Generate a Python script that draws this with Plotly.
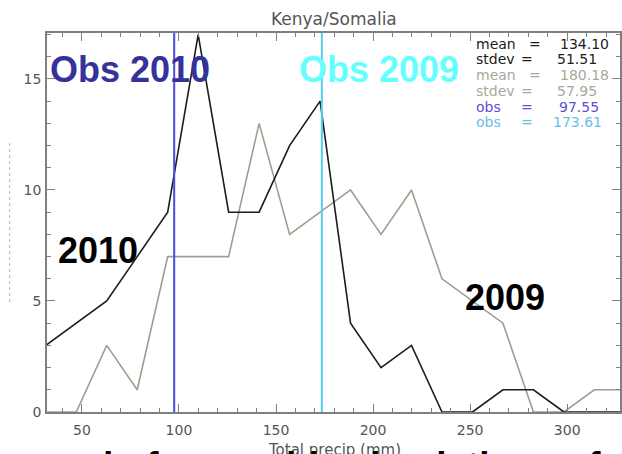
import plotly.graph_objects as go

# Histogram bin centres (mm) and ensemble member counts per bin
precip_bins = [31.4, 47.1, 62.8, 78.5, 94.2, 109.9, 125.6, 141.3, 157.0, 172.7,
               188.4, 204.1, 219.8, 235.5, 251.2, 266.9, 282.6, 298.3, 314.0, 329.7]
counts_2010 = [3, 4, 5, 7, 9, 17, 9, 9, 12, 14, 4, 2, 3, 0, 0, 1, 1, 0, 0, 0]
counts_2009 = [0, 0, 3, 1, 7, 7, 7, 13, 8, 9, 10, 8, 10, 6, 5, 4, 0, 0, 1, 1]

# Observed totals (mm)
obs_2010 = 97.55
obs_2009 = 173.61

# Summary statistics box
stat_labels = ["mean", "stdev", "mean", "stdev", "obs", "obs"]
stat_values = [134.10, 51.51, 180.18, 57.95, obs_2010, obs_2009]

x_ticks = [50, 100, 150, 200, 250, 300]
y_ticks = [0, 5, 10, 15]
x_range = [32.03, 327.2]
y_range = [0, 17.07]

# ---- geometry helpers (pixel -> paper) ----
W, H = 622, 454
ML, MR, MT, MB = 47, 0, 33, 42
PW, PH = W - ML - MR, H - MT - MB


def px(x):
    return (x - ML) / PW


def py(y):
    return (H - MB - y) / PH


BLACK = "#1c1c1c"
GREY = "#9e9e8e"
BLUE = "#4b4be0"
CYAN = "#55cdee"
AXIS = "#808080"
TXT = "#555555"

fig = go.Figure()

fig.add_trace(go.Scatter(x=precip_bins, y=counts_2009, mode="lines",
                         line=dict(color=GREY, width=1.6), showlegend=False))
fig.add_trace(go.Scatter(x=precip_bins, y=counts_2010, mode="lines",
                         line=dict(color=BLACK, width=1.6), showlegend=False))
# empty trace so the top/right tick axes get drawn
fig.add_trace(go.Scatter(x=[], y=[], xaxis="x2", yaxis="y2", showlegend=False,
                         hoverinfo="skip"))

# observed values as vertical lines
fig.add_shape(type="line", xref="x", yref="paper", x0=obs_2010, x1=obs_2010,
              y0=0, y1=1, line=dict(color=BLUE, width=2))
fig.add_shape(type="line", xref="x", yref="paper", x0=obs_2009, x1=obs_2009,
              y0=0, y1=1, line=dict(color=CYAN, width=2))

# faint dashed mark at the far left
fig.add_shape(type="line", xref="paper", yref="paper", x0=px(9.5), x1=px(9.5),
              y0=py(143), y1=py(303), line=dict(color="#b8b8b8", width=1, dash="dot"))

ann = []
# title
ann.append(dict(text="Kenya/Somalia", x=px(335), y=py(19), xref="paper", yref="paper",
                showarrow=False, xanchor="center", yanchor="middle",
                font=dict(family="DejaVu Sans", size=17, color=TXT)))
# x-axis title (partly below the page edge)
ann.append(dict(text="Total precip (mm)", x=px(336), y=py(439), xref="paper", yref="paper",
                showarrow=False, xanchor="center", yanchor="top",
                font=dict(family="DejaVu Sans", size=15, color=TXT)))

big = dict(family="Liberation Sans, Arial", size=36)
ann.append(dict(text="<b>Obs 2010</b>", x=px(48), y=py(69), xref="paper", yref="paper",
                showarrow=False, xanchor="left", yanchor="middle",
                font=dict(**big, color="#333399")))
ann.append(dict(text="<b>Obs 2009</b>", x=px(298), y=py(69), xref="paper", yref="paper",
                showarrow=False, xanchor="left", yanchor="middle",
                font=dict(**big, color="#66ffff")))
ann.append(dict(text="<b>2010</b>", x=px(98), y=py(250), xref="paper", yref="paper",
                showarrow=False, xanchor="center", yanchor="middle",
                font=dict(**big, color="black")))
ann.append(dict(text="<b>2009</b>", x=px(507), y=py(297), xref="paper", yref="paper",
                showarrow=False, xanchor="center", yanchor="middle",
                font=dict(**big, color="black")))

# caption text running off the bottom of the page
ann.append(dict(text="<b>spread of ensemble simulations of</b>", x=px(-10), y=py(443),
                xref="paper", yref="paper", showarrow=False, xanchor="left", yanchor="top",
                font=dict(family="Liberation Sans, Arial", size=37, color="black")))

# statistics block
stat_colors = [BLACK, BLACK, "#a8a89a", "#a8a89a", "#5a4fd6", "#66c0e6"]
row_y = [44, 59, 75, 91, 107, 122]
eq_x = [537, 529, 537, 529, 529, 529]
val_x = [560, 557, 560, 557, 559, 553]
sfont = dict(family="DejaVu Sans", size=14)
for i, (lab, val) in enumerate(zip(stat_labels, stat_values)):
    c = stat_colors[i]
    ann.append(dict(text=lab, x=px(475), y=py(row_y[i]), xref="paper", yref="paper",
                    showarrow=False, xanchor="left", yanchor="middle",
                    font=dict(**sfont, color=c)))
    ann.append(dict(text="=", x=px(eq_x[i]), y=py(row_y[i]), xref="paper", yref="paper",
                    showarrow=False, xanchor="center", yanchor="middle",
                    font=dict(**sfont, color=c)))
    ann.append(dict(text=f"{val:.2f}", x=px(val_x[i]), y=py(row_y[i]), xref="paper",
                    yref="paper", showarrow=False, xanchor="left", yanchor="middle",
                    font=dict(**sfont, color=c)))

axis_common = dict(showline=True, linecolor=AXIS, linewidth=1.5, mirror=True,
                   ticks="inside", tickcolor=AXIS, tickwidth=1.2, ticklen=8,
                   showgrid=False, zeroline=False,
                   tickfont=dict(family="DejaVu Sans", size=14, color=TXT))
mirror_common = dict(showline=False, ticks="inside", tickcolor=AXIS, tickwidth=1.2,
                     ticklen=8, showgrid=False, zeroline=False, showticklabels=False)

fig.update_layout(
    width=W, height=H,
    margin=dict(l=ML, r=MR, t=MT, b=MB, pad=0),
    paper_bgcolor="white", plot_bgcolor="white",
    annotations=ann,
    xaxis=dict(range=x_range, tickvals=x_ticks,
               minor=dict(dtick=10, ticks="inside", ticklen=4, tickcolor=AXIS, showgrid=False),
               ticklabelstandoff=4, **axis_common),
    yaxis=dict(range=y_range, tickvals=y_ticks,
               minor=dict(dtick=1, ticks="inside", ticklen=4, tickcolor=AXIS, showgrid=False),
               ticklabelstandoff=1, **axis_common),
    xaxis2=dict(overlaying="x", side="top", anchor="y2", range=x_range, tickvals=x_ticks,
                minor=dict(dtick=10, ticks="inside", ticklen=4, tickcolor=AXIS, showgrid=False),
                **mirror_common),
    yaxis2=dict(overlaying="y", side="right", anchor="x2", range=y_range, tickvals=y_ticks,
                minor=dict(dtick=1, ticks="inside", ticklen=4, tickcolor=AXIS, showgrid=False),
                **mirror_common),
)

fig.write_html("out.html")
